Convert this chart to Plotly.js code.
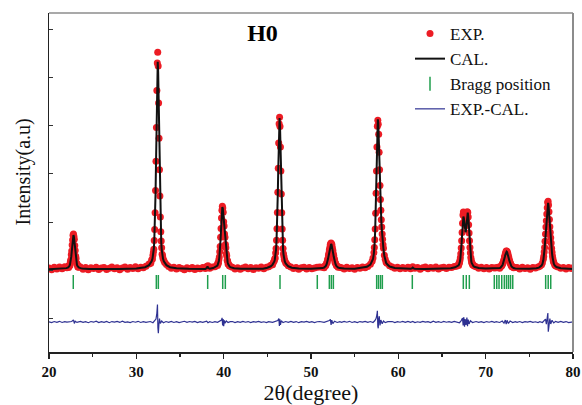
<!DOCTYPE html>
<html><head><meta charset="utf-8">
<script src="https://cdn.plot.ly/plotly-3.0.1.min.js"></script>
<style>html,body{margin:0;padding:0;background:#fff;}#chart{width:582px;height:405px;}</style>
</head><body><div id="chart"></div>
<script>
// ---------- data ----------
const calTheta = [20.0,21.0,21.8,22.0,
22.20,22.25,22.30,22.35,22.40,22.45,22.50,22.55,22.60,22.65,22.70,22.75,22.80,22.85,22.90,22.95,23.00,23.05,23.10,23.15,23.20,23.25,23.30,23.35,23.40,
23.6,23.8,24.6,26.0,28.0,30.0,31.0,
31.45,31.65,31.75,31.85,31.90,31.95,32.00,32.05,32.10,32.15,32.20,32.25,32.30,32.35,32.40,32.45,32.50,32.55,32.60,32.65,32.70,32.75,32.80,32.85,32.90,32.95,33.00,33.05,33.15,33.25,33.45,
33.85,34.6,36.0,37.5,37.9,38.05,38.15,38.25,38.4,38.8,39.0,
39.25,39.30,39.35,39.40,39.45,39.50,39.55,39.60,39.65,39.70,39.75,39.80,39.85,39.90,39.95,40.00,40.05,40.10,40.15,40.20,40.25,40.30,40.35,40.40,40.45,40.50,40.55,40.65,40.75,
41.2,42.0,43.5,44.5,45.0,
45.40,45.60,45.70,45.80,45.85,45.90,45.95,46.00,46.05,46.10,46.15,46.20,46.25,46.30,46.35,46.40,46.45,46.50,46.55,46.60,46.65,46.70,46.75,46.80,46.85,46.90,46.95,47.00,47.10,47.20,47.40,
47.8,48.6,50.0,51.0,
51.30,51.50,51.60,51.70,51.80,51.85,51.90,51.95,52.00,52.05,52.10,52.15,52.20,52.25,52.30,52.35,52.40,52.45,52.50,52.55,52.60,52.65,52.70,52.75,52.80,52.90,53.00,53.10,53.30,
53.8,55.0,56.0,56.4,56.8,
57.00,57.10,57.20,57.25,57.30,57.35,57.40,57.45,57.50,57.55,57.60,57.65,57.70,57.75,57.80,57.85,57.90,57.95,58.00,58.05,58.10,58.15,58.20,58.25,58.30,58.40,58.50,58.60,58.70,59.00,
59.6,60.6,61.4,61.55,61.65,61.75,61.9,63.0,65.0,66.0,66.5,
66.85,66.90,66.95,67.00,67.05,67.10,67.15,67.20,67.25,67.30,67.35,67.40,67.45,67.50,67.55,67.60,67.65,67.70,67.75,67.80,67.85,67.90,67.95,68.00,68.05,68.10,68.15,68.20,68.25,68.30,68.35,68.40,68.45,68.50,68.60,68.70,
69.2,70.0,70.8,71.2,
71.40,71.60,71.70,71.80,71.85,71.90,71.95,72.00,72.05,72.10,72.15,72.20,72.25,72.30,72.35,72.40,72.45,72.50,72.55,72.60,72.65,72.70,72.75,72.80,72.85,72.90,72.95,73.00,73.10,73.20,73.40,
74.0,75.0,75.8,76.1,
76.40,76.50,76.60,76.65,76.70,76.75,76.80,76.85,76.90,76.95,77.00,77.05,77.10,77.15,77.20,77.25,77.30,77.35,77.40,77.45,77.50,77.55,77.60,77.65,77.70,77.75,77.80,77.90,78.00,78.10,
78.6,79.3,80.0];
const calInt = [1030,1033,1043,1051,
1066,1073,1084,1099,1123,1159,1213,1288,1384,1495,1610,1702,1737,1702,1610,1495,1384,1288,1213,1159,1123,1099,1084,1073,1066,
1051,1043,1034,1031,1034,1044,1071,
1112,1159,1193,1249,1292,1356,1451,1593,1816,2142,2597,3177,3855,4551,5109,5324,5109,4551,3855,3177,2597,2142,1816,1593,1451,1356,1292,1249,1193,1159,1112,
1071,1048,1037,1033,1035,1052,1088,1052,1040,1052,1066,
1098,1111,1131,1159,1199,1264,1357,1488,1654,1851,2056,2229,2313,2287,2174,2031,1892,1772,1661,1554,1449,1359,1281,1220,1174,1141,1118,1090,1072,
1049,1037,1033,1040,1060,
1089,1124,1149,1190,1221,1268,1337,1440,1603,1840,2172,2595,3089,3596,4003,4159,4003,3596,3089,2595,2172,1840,1603,1440,1337,1268,1221,1190,1149,1124,1089,
1061,1044,1036,1044,
1052,1064,1077,1098,1139,1165,1202,1243,1290,1347,1399,1456,1505,1539,1550,1539,1505,1456,1399,1347,1290,1243,1202,1165,1139,1098,1077,1064,1052,
1042,1036,1058,1079,1125,
1182,1239,1355,1453,1609,1834,2150,2552,3021,3516,3930,4130,4070,3782,3414,3044,2719,2442,2218,2029,1874,1736,1625,1520,1437,1304,1215,1161,1135,1085,
1056,1042,1038,1046,1062,1046,1038,1035,1040,1048,1069,
1098,1110,1127,1151,1187,1243,1323,1433,1573,1737,1908,2050,2116,2090,1995,1890,1815,1795,1836,1933,2056,2165,2198,2128,1976,1793,1614,1463,1343,1255,1197,1160,1132,1114,1092,1080,
1055,1042,1043,1041,
1045,1054,1062,1077,1090,1106,1124,1149,1178,1211,1250,1286,1326,1360,1383,1391,1383,1360,1326,1286,1250,1211,1178,1149,1124,1106,1090,1077,1062,1054,1045,
1038,1037,1048,1062,
1104,1139,1212,1272,1353,1455,1581,1723,1868,2008,2144,2275,2378,2404,2337,2196,2036,1890,1765,1652,1545,1444,1355,1281,1222,1178,1145,1106,1085,1073,
1050,1038,1034];

const expTheta = [20.0,20.3,20.6,20.9,21.2,21.5,21.8,22.05,
22.20,22.25,22.30,22.35,22.40,22.45,22.50,22.55,22.60,22.65,22.70,22.75,22.80,22.85,22.90,22.95,23.00,23.05,23.10,23.15,23.20,23.25,23.30,23.35,23.40,
23.6,23.9,24.2,24.5,24.8,25.1,25.4,25.7,26.0,26.3,26.6,26.9,27.2,27.5,27.8,28.1,28.4,28.7,29.0,29.3,29.6,29.9,30.2,30.5,30.8,31.1,
31.45,31.65,31.75,31.85,31.90,31.95,32.00,32.05,32.10,32.15,32.20,32.25,32.30,32.35,32.40,32.45,32.50,32.55,32.60,32.65,32.70,32.75,32.80,32.85,32.90,32.95,33.00,33.05,33.15,33.25,33.45,
33.7,34.0,34.3,34.6,34.9,35.2,35.5,35.8,36.1,36.4,36.7,37.0,37.3,37.6,37.9,38.05,38.2,38.4,38.7,39.0,
39.25,39.30,39.35,39.40,39.45,39.50,39.55,39.60,39.65,39.70,39.75,39.80,39.85,39.90,39.95,40.00,40.05,40.10,40.15,40.20,40.25,40.30,40.35,40.40,40.45,40.50,40.55,40.65,40.75,
41.0,41.3,41.6,41.9,42.2,42.5,42.8,43.1,43.4,43.7,44.0,44.3,44.6,44.9,45.15,
45.40,45.60,45.70,45.80,45.85,45.90,45.95,46.00,46.05,46.10,46.15,46.20,46.25,46.30,46.35,46.40,46.45,46.50,46.55,46.60,46.65,46.70,46.75,46.80,46.85,46.90,46.95,47.00,47.10,47.20,47.40,
47.7,48.0,48.3,48.6,48.9,49.2,49.5,49.8,50.1,50.4,50.7,51.0,
51.30,51.50,51.60,51.70,51.80,51.85,51.90,51.95,52.00,52.05,52.10,52.15,52.20,52.25,52.30,52.35,52.40,52.45,52.50,52.55,52.60,52.65,52.70,52.75,52.80,52.90,53.00,53.10,53.30,
53.5,53.8,54.1,54.4,54.7,55.0,55.3,55.6,55.9,56.2,56.5,56.8,
57.00,57.10,57.20,57.25,57.30,57.35,57.40,57.45,57.50,57.55,57.60,57.65,57.70,57.75,57.80,57.85,57.90,57.95,58.00,58.05,58.10,58.15,58.20,58.25,58.30,58.40,58.50,58.60,58.70,59.00,
59.3,59.6,59.9,60.2,60.5,60.8,61.1,61.4,61.65,61.9,62.2,62.5,62.8,63.1,63.4,63.7,64.0,64.3,64.6,64.9,65.2,65.5,65.8,66.1,66.4,66.65,
66.85,66.90,66.95,67.00,67.05,67.10,67.15,67.20,67.25,67.30,67.35,67.40,67.45,67.50,67.55,67.60,67.65,67.70,67.75,67.80,67.85,67.90,67.95,68.00,68.05,68.10,68.15,68.20,68.25,68.30,68.35,68.40,68.45,68.50,68.60,68.70,
68.9,69.2,69.5,69.8,70.1,70.4,70.7,71.0,71.2,
71.40,71.60,71.70,71.80,71.85,71.90,71.95,72.00,72.05,72.10,72.15,72.20,72.25,72.30,72.35,72.40,72.45,72.50,72.55,72.60,72.65,72.70,72.75,72.80,72.85,72.90,72.95,73.00,73.10,73.20,73.40,
73.6,73.9,74.2,74.5,74.8,75.1,75.4,75.7,76.0,76.2,
76.40,76.50,76.60,76.65,76.70,76.75,76.80,76.85,76.90,76.95,77.00,77.05,77.10,77.15,77.20,77.25,77.30,77.35,77.40,77.45,77.50,77.55,77.60,77.65,77.70,77.75,77.80,77.90,78.00,78.10,
78.3,78.6,78.9,79.2,79.5,79.8,80.0];
const expInt = [1055,1020,1068,1035,1072,1040,1078,1060,
1086,1063,1109,1104,1108,1189,1223,1328,1404,1530,1635,1732,1757,1712,1650,1520,1414,1298,1248,1154,1143,1114,1074,1098,1071,
1075,1030,1062,1018,1058,1044,1070,1025,1052,1066,1022,1048,1075,1036,1060,1020,1054,1072,1030,1065,1045,1078,1040,1068,1060,1090,
1135,1150,1218,1240,1318,1372,1440,1625,1850,2195,2660,3265,3960,4730,5297,5519,5235,4470,3740,3085,2545,2110,1805,1615,1472,1340,1312,1258,1210,1168,1128,
1085,1048,1070,1032,1062,1045,1020,1058,1040,1066,1025,1055,1038,1064,1042,1085,1098,1050,1072,1078,
1120,1105,1160,1150,1225,1280,1390,1500,1690,1870,2090,2250,2330,2295,2210,2010,1925,1760,1690,1540,1475,1350,1305,1215,1200,1135,1140,1098,1090,
1070,1035,1060,1028,1055,1072,1040,1062,1024,1058,1046,1075,1038,1070,1080,
1110,1120,1172,1205,1240,1260,1365,1455,1630,1865,2200,2620,3120,3640,4040,4175,3985,3560,3060,2585,2195,1860,1630,1455,1350,1290,1235,1210,1160,1142,1100,
1075,1042,1066,1030,1058,1070,1035,1062,1040,1055,1068,1072,
1070,1060,1100,1105,1160,1170,1225,1250,1320,1360,1425,1470,1530,1555,1572,1550,1528,1470,1420,1355,1310,1250,1225,1170,1158,1105,1095,1068,1070,
1060,1035,1068,1042,1058,1026,1064,1048,1072,1060,1085,1130,
1195,1262,1370,1480,1640,1860,2185,2600,3060,3560,3990,4110,4030,3820,3450,3090,2760,2470,2250,2050,1900,1760,1650,1535,1460,1320,1235,1175,1150,1098,
1075,1050,1068,1036,1062,1045,1070,1040,1082,1048,1066,1030,1058,1072,1038,1064,1050,1076,1034,1060,1070,1045,1068,1062,1085,1090,
1115,1105,1150,1160,1210,1265,1350,1470,1620,1790,1980,2150,2215,2200,2120,2040,1960,1930,1960,2040,2150,2220,2200,2110,1950,1780,1620,1480,1365,1270,1220,1170,1150,1120,1110,1095,
1080,1050,1068,1040,1062,1035,1066,1052,1060,
1070,1048,1085,1090,1115,1120,1150,1160,1205,1225,1280,1300,1350,1372,1408,1400,1398,1370,1345,1295,1270,1220,1200,1158,1145,1110,1108,1082,1080,1058,1065,
1062,1035,1070,1042,1058,1028,1066,1055,1075,1088,
1120,1160,1235,1290,1385,1480,1610,1760,1900,2030,2170,2300,2410,2435,2360,2220,2060,1910,1790,1680,1570,1465,1380,1300,1245,1195,1170,1120,1100,1090,
1075,1048,1066,1035,1062,1045,1058];

const diffTheta = [20.0,20.3,20.6,20.9,21.2,21.5,21.8,22.05,
22.6,22.7,22.8,22.9,23.0,23.2,
23.6,23.9,24.2,24.5,24.8,25.1,25.4,25.7,26.0,26.3,26.6,26.9,27.2,27.5,27.8,28.1,28.4,28.7,29.0,29.3,29.6,29.9,30.2,30.5,30.8,31.1,
31.6,31.9,32.1,32.25,32.35,32.42,32.47,32.52,32.58,32.65,32.75,32.9,33.1,33.4,
33.7,34.0,34.3,34.6,34.9,35.2,35.5,35.8,36.1,36.4,36.7,37.0,37.3,37.6,37.9,38.05,38.2,38.4,38.7,39.0,
39.3,39.6,39.75,39.82,39.88,39.94,40.0,40.08,40.15,40.3,40.5,40.75,
41.0,41.3,41.6,41.9,42.2,42.5,42.8,43.1,43.4,43.7,44.0,44.3,44.6,44.9,45.15,
45.6,45.9,46.2,46.32,46.38,46.44,46.5,46.6,46.8,47.1,47.4,
47.7,48.0,48.3,48.6,48.9,49.2,49.5,49.8,50.1,50.4,50.7,51.0,
51.5,51.9,52.1,52.22,52.3,52.38,52.5,52.7,53.0,53.3,
53.5,53.8,54.1,54.4,54.7,55.0,55.3,55.6,55.9,56.2,56.5,56.8,
57.1,57.3,57.45,57.55,57.6,57.65,57.7,57.75,57.82,57.9,58.0,58.15,58.3,58.5,58.8,
59.3,59.6,59.9,60.2,60.5,60.8,61.1,61.4,61.65,61.9,62.2,62.5,62.8,63.1,63.4,63.7,64.0,64.3,64.6,64.9,65.2,65.5,65.8,66.1,66.4,66.65,
67.0,67.2,67.35,67.42,67.5,67.58,67.65,67.75,67.85,67.92,68.0,68.1,68.25,68.5,
68.9,69.2,69.5,69.8,70.1,70.4,70.7,71.0,71.2,
71.6,71.9,72.1,72.25,72.35,72.45,72.6,72.8,73.1,73.4,
73.6,73.9,74.2,74.5,74.8,75.1,75.4,75.7,76.0,76.2,
76.5,76.7,76.85,76.95,77.05,77.12,77.17,77.25,77.35,77.45,77.6,77.8,78.0,
78.3,78.6,78.9,79.2,79.5,79.8,80.0];
const diffRes = [5,-12,10,-6,14,-10,8,-4,
10,30,45,-30,15,-8,
12,-8,6,-15,10,-4,16,-11,7,-6,13,-14,9,-3,11,-9,15,-7,4,-12,10,-5,14,-10,6,-8,
10,-15,25,60,180,360,-120,-230,-60,70,-30,20,-15,10,
-6,12,-10,8,-13,5,15,-8,10,-4,13,-11,7,-9,12,18,-14,6,-10,8,
-5,15,40,85,-70,60,-85,35,-25,20,-10,8,
10,-12,6,-8,14,-5,9,-13,7,-4,12,-9,5,-11,8,
-8,15,30,70,-80,55,-60,25,-12,10,-6,
12,-7,9,-14,6,-3,13,-9,8,-11,5,10,
-6,12,30,55,-60,40,-35,15,-10,6,
-8,11,-5,14,-10,6,-12,9,-4,13,-7,10,
-10,25,70,150,230,-90,-130,60,120,-70,40,-35,20,-12,8,
9,-11,7,-5,12,-8,14,-6,10,-13,5,-9,11,-4,8,-12,15,-7,6,-10,13,-5,9,-8,12,-6,
-15,30,80,-70,100,-95,60,-60,90,-85,50,-40,25,-10,
10,-8,6,-12,9,-5,12,-9,7,
-10,20,-25,40,-45,35,-30,20,-12,8,
-6,10,-12,7,-4,13,-9,5,-11,9,
-10,20,60,-45,80,186,-200,-90,70,-40,35,-20,12,
-8,11,-6,9,-12,7,4];

const braggPos = [22.78,32.29,32.52,38.17,39.89,40.19,46.45,50.72,52.10,52.33,52.56,
57.52,57.73,57.96,58.17,61.60,67.44,67.78,68.13,70.99,71.27,71.53,71.84,
72.14,72.39,72.62,72.85,73.10,76.87,77.16,77.45];

const xTickVals = [20,30,40,50,60,70,80];
const xTickText = ['20','30','40','50','60','70','80'];

// ---------- placement constants (not data) ----------
const BRAGG_Y = 764;
const DIFF_OFFSET = -64;
const SERIF = '"Liberation Serif", "Times New Roman", serif';

const traces = [
  {type:'scatter', mode:'markers', name:'EXP.', x:expTheta, y:expInt,
   marker:{color:'#ec1c24', size:7}},
  {type:'scatter', mode:'lines', name:'CAL.', x:calTheta, y:calInt,
   line:{color:'#111111', width:2}},
  {type:'scatter', mode:'markers', name:'Bragg position', x:braggPos, y:braggPos.map(()=>BRAGG_Y),
   marker:{symbol:'line-ns-open', size:10, color:'#1f9e4d', line:{color:'#1f9e4d', width:1.5}}},
  {type:'scatter', mode:'lines', name:'EXP.-CAL.', x:diffTheta, y:diffRes.map(v=>v+DIFF_OFFSET),
   line:{color:'#2e3192', width:1.2}}
];

const layout = {
  width:582, height:405,
  margin:{l:49, r:9, t:13, b:53},
  paper_bgcolor:'#fff', plot_bgcolor:'#fff',
  showlegend:true,
  font:{family:SERIF, color:'#111'},
  title:{text:'H0', font:{family:SERIF, size:24, weight:'bold', color:'#000'},
         x:262.5/582, xref:'container', xanchor:'center', y:1-33/405, yref:'container', yanchor:'middle'},
  xaxis:{range:[20,80], tickvals:xTickVals, ticktext:xTickText.map(t=>'<b>'+t+'</b>'), ticks:'outside', ticklen:5, tickwidth:1.2, tickcolor:'#222',
         minor:{dtick:5, ticks:'outside', ticklen:3.5, tickwidth:1.2, tickcolor:'#222'},
         showline:true, linecolor:'#222', linewidth:1.5, showgrid:false, zeroline:false,
         tickfont:{family:SERIF, size:15, weight:'bold', color:'#111'},
         title:{text:'2θ(degree)', font:{family:SERIF, size:22, color:'#111'}, standoff:11},
         automargin:false},
  yaxis:{range:[-685,6332], tick0:0, dtick:1000, ticks:'inside', ticklen:4, tickwidth:1, tickcolor:'#333',
         showticklabels:false, showline:true, linecolor:'#222', linewidth:1.5, showgrid:false, zeroline:false,
         automargin:false},
  legend:{x:(410-49)/524, xanchor:'left', y:(352-16)/339, yanchor:'top', bgcolor:'rgba(0,0,0,0)',
          font:{family:SERIF, size:17, color:'#111'}, tracegroupgap:0},
  shapes:[
    {type:'line', xref:'paper', yref:'paper', x0:0, x1:1, y0:1, y1:1, line:{color:'#8c8c8c', width:1.5}},
    {type:'line', xref:'paper', yref:'paper', x0:1, x1:1, y0:0, y1:1, line:{color:'#8c8c8c', width:2}}
  ],
  annotations:[
    {text:'Intensity(a.u)', xref:'paper', yref:'paper', x:(23-49)/524, y:(352-172.5)/339,
     xanchor:'center', yanchor:'middle', textangle:-90, showarrow:false,
     font:{family:SERIF, size:20, color:'#111'}}
  ]
};

Plotly.newPlot('chart', traces, layout, {displayModeBar:false, staticPlot:true});
</script>
</body></html>
